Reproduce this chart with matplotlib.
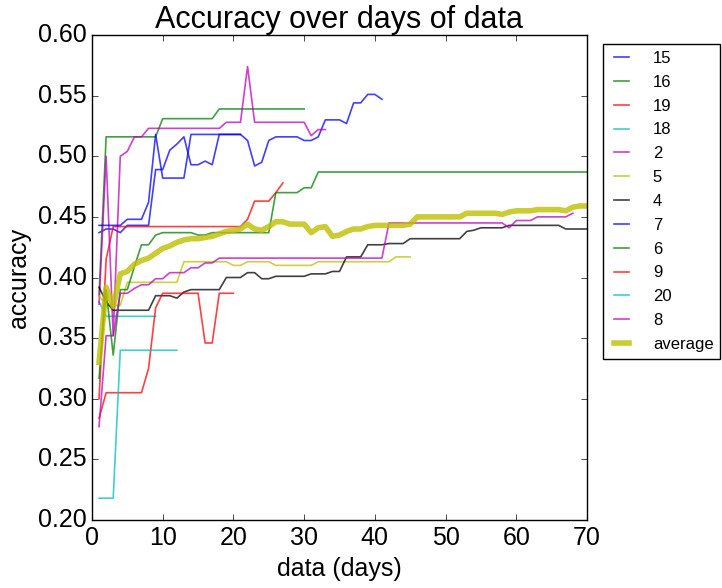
import matplotlib
matplotlib.use('Agg')
import matplotlib.pyplot as plt
import numpy as np

plt.style.use('classic')
plt.rcParams['font.family'] = ['Liberation Sans', 'DejaVu Sans']

# accuracy per number of days, one list per user
acc_15 = [0.437, 0.440, 0.440, 0.437, 0.443, 0.443, 0.443, 0.443, 0.489, 0.489,
          0.505, 0.510, 0.516, 0.493, 0.493, 0.496, 0.493, 0.518, 0.518, 0.518,
          0.518, 0.513, 0.492, 0.495, 0.513, 0.516, 0.516, 0.516, 0.516, 0.513,
          0.513, 0.516, 0.530, 0.530, 0.530, 0.527, 0.544, 0.544, 0.551, 0.551,
          0.547]
acc_16 = [0.385] + [0.516] * 8 + [0.531] * 8 + [0.539] * 13
acc_19 = [0.300, 0.415] + [0.442] * 19 + [0.448, 0.463, 0.463, 0.463, 0.470, 0.478]
acc_18 = [0.380] + [0.368] * 8
acc_2 = [0.378, 0.500, 0.352, 0.500, 0.504, 0.516, 0.516] + [0.523] * 11 + \
        [0.528] * 3 + [0.574] + [0.528] * 8 + [0.517, 0.522, 0.522]
acc_5 = [0.385, 0.377, 0.377, 0.377] + [0.396] * 8 + [0.413] * 7 + [0.410] * 2 + \
        [0.413] * 4 + [0.410] * 6 + [0.413] * 11 + [0.417] * 3
acc_4 = [0.392, 0.380] + [0.373] * 6 + [0.385] * 3 + [0.383, 0.388] + [0.390] * 5 + \
        [0.400] * 3 + [0.404] * 2 + [0.399] * 2 + [0.401] * 5 + [0.403] * 3 + \
        [0.405] * 2 + [0.417] * 3 + [0.427] * 3 + [0.428] * 3 + [0.432] * 8 + \
        [0.438, 0.439] + [0.441] * 4 + [0.443] * 8 + [0.440] * 4
acc_7 = [0.443, 0.443, 0.443, 0.443, 0.448, 0.448, 0.448, 0.462, 0.518,
         0.482, 0.482, 0.482, 0.482] + [0.518] * 8
acc_6 = [0.317, 0.390, 0.336, 0.390, 0.390, 0.409, 0.427, 0.427, 0.435] + \
        [0.437] * 5 + [0.435] * 2 + [0.437] * 9 + [0.470] * 4 + [0.474] * 2 + [0.487] * 39
acc_9 = [0.284] + [0.305] * 6 + [0.325, 0.375] + [0.387] * 6 + [0.346] * 2 + [0.387] * 3
acc_20 = [0.218] * 3 + [0.340] * 9
acc_8 = [0.277, 0.352, 0.352, 0.387, 0.387, 0.391, 0.394, 0.394, 0.399, 0.399,
         0.404, 0.404, 0.404, 0.408, 0.408, 0.412, 0.412] + [0.416] * 24 + \
        [0.445] * 17 + [0.441] + [0.447] * 3 + [0.450] * 5 + [0.453]
average = [0.330, 0.392, 0.376, 0.403, 0.405, 0.411, 0.414, 0.416, 0.420, 0.424,
           0.426, 0.429, 0.431, 0.432, 0.432, 0.433, 0.434, 0.436, 0.438, 0.439,
           0.440, 0.444, 0.440, 0.439, 0.442, 0.446, 0.446, 0.444, 0.444, 0.444,
           0.437, 0.441, 0.442, 0.434, 0.435, 0.438, 0.440, 0.440, 0.442, 0.443,
           0.443, 0.443, 0.443, 0.443, 0.444, 0.450, 0.450, 0.450, 0.450, 0.450,
           0.450, 0.450, 0.453, 0.453, 0.453, 0.453, 0.453, 0.452, 0.454, 0.455,
           0.455, 0.455, 0.456, 0.456, 0.456, 0.456, 0.455, 0.458, 0.459, 0.459]

users = ['15', '16', '19', '18', '2', '5', '4', '7', '6', '9', '20', '8']
series = [acc_15, acc_16, acc_19, acc_18, acc_2, acc_5, acc_4, acc_7, acc_6, acc_9, acc_20, acc_8]
colors = ['b', 'g', 'r', 'c', 'm', 'y', 'k']

fig = plt.figure(figsize=(7.22, 5.88), dpi=100, facecolor='white')
ax = fig.add_axes([0.1274, 0.1156, 0.6856, 0.8249])

for i, (name, vals) in enumerate(zip(users, series)):
    days = np.arange(1, len(vals) + 1)
    ax.plot(days, vals, color=colors[i % len(colors)], alpha=0.75, lw=1.2, label=name)

ax.plot(np.arange(1, len(average) + 1), average, color='y', alpha=0.8, lw=4, label='average')

ax.set_xlim(0, 70)
ax.set_ylim(0.20, 0.60)
ax.set_yticks(np.arange(0.20, 0.601, 0.05))
ax.yaxis.set_major_formatter(matplotlib.ticker.FormatStrFormatter('%.2f'))
ax.tick_params(labelsize=18)
ax.set_title('Accuracy over days of data', fontsize=22)
ax.set_xlabel('data (days)', fontsize=18)
ax.set_ylabel('accuracy', fontsize=18)

ax.legend(loc='upper left', bbox_to_anchor=(1.032, 0.981), borderaxespad=0, fontsize=12,
          handlelength=1.5, handletextpad=1.1, labelspacing=0.53, borderpad=0.4)

fig.savefig('out.png', dpi=100, facecolor='white')
